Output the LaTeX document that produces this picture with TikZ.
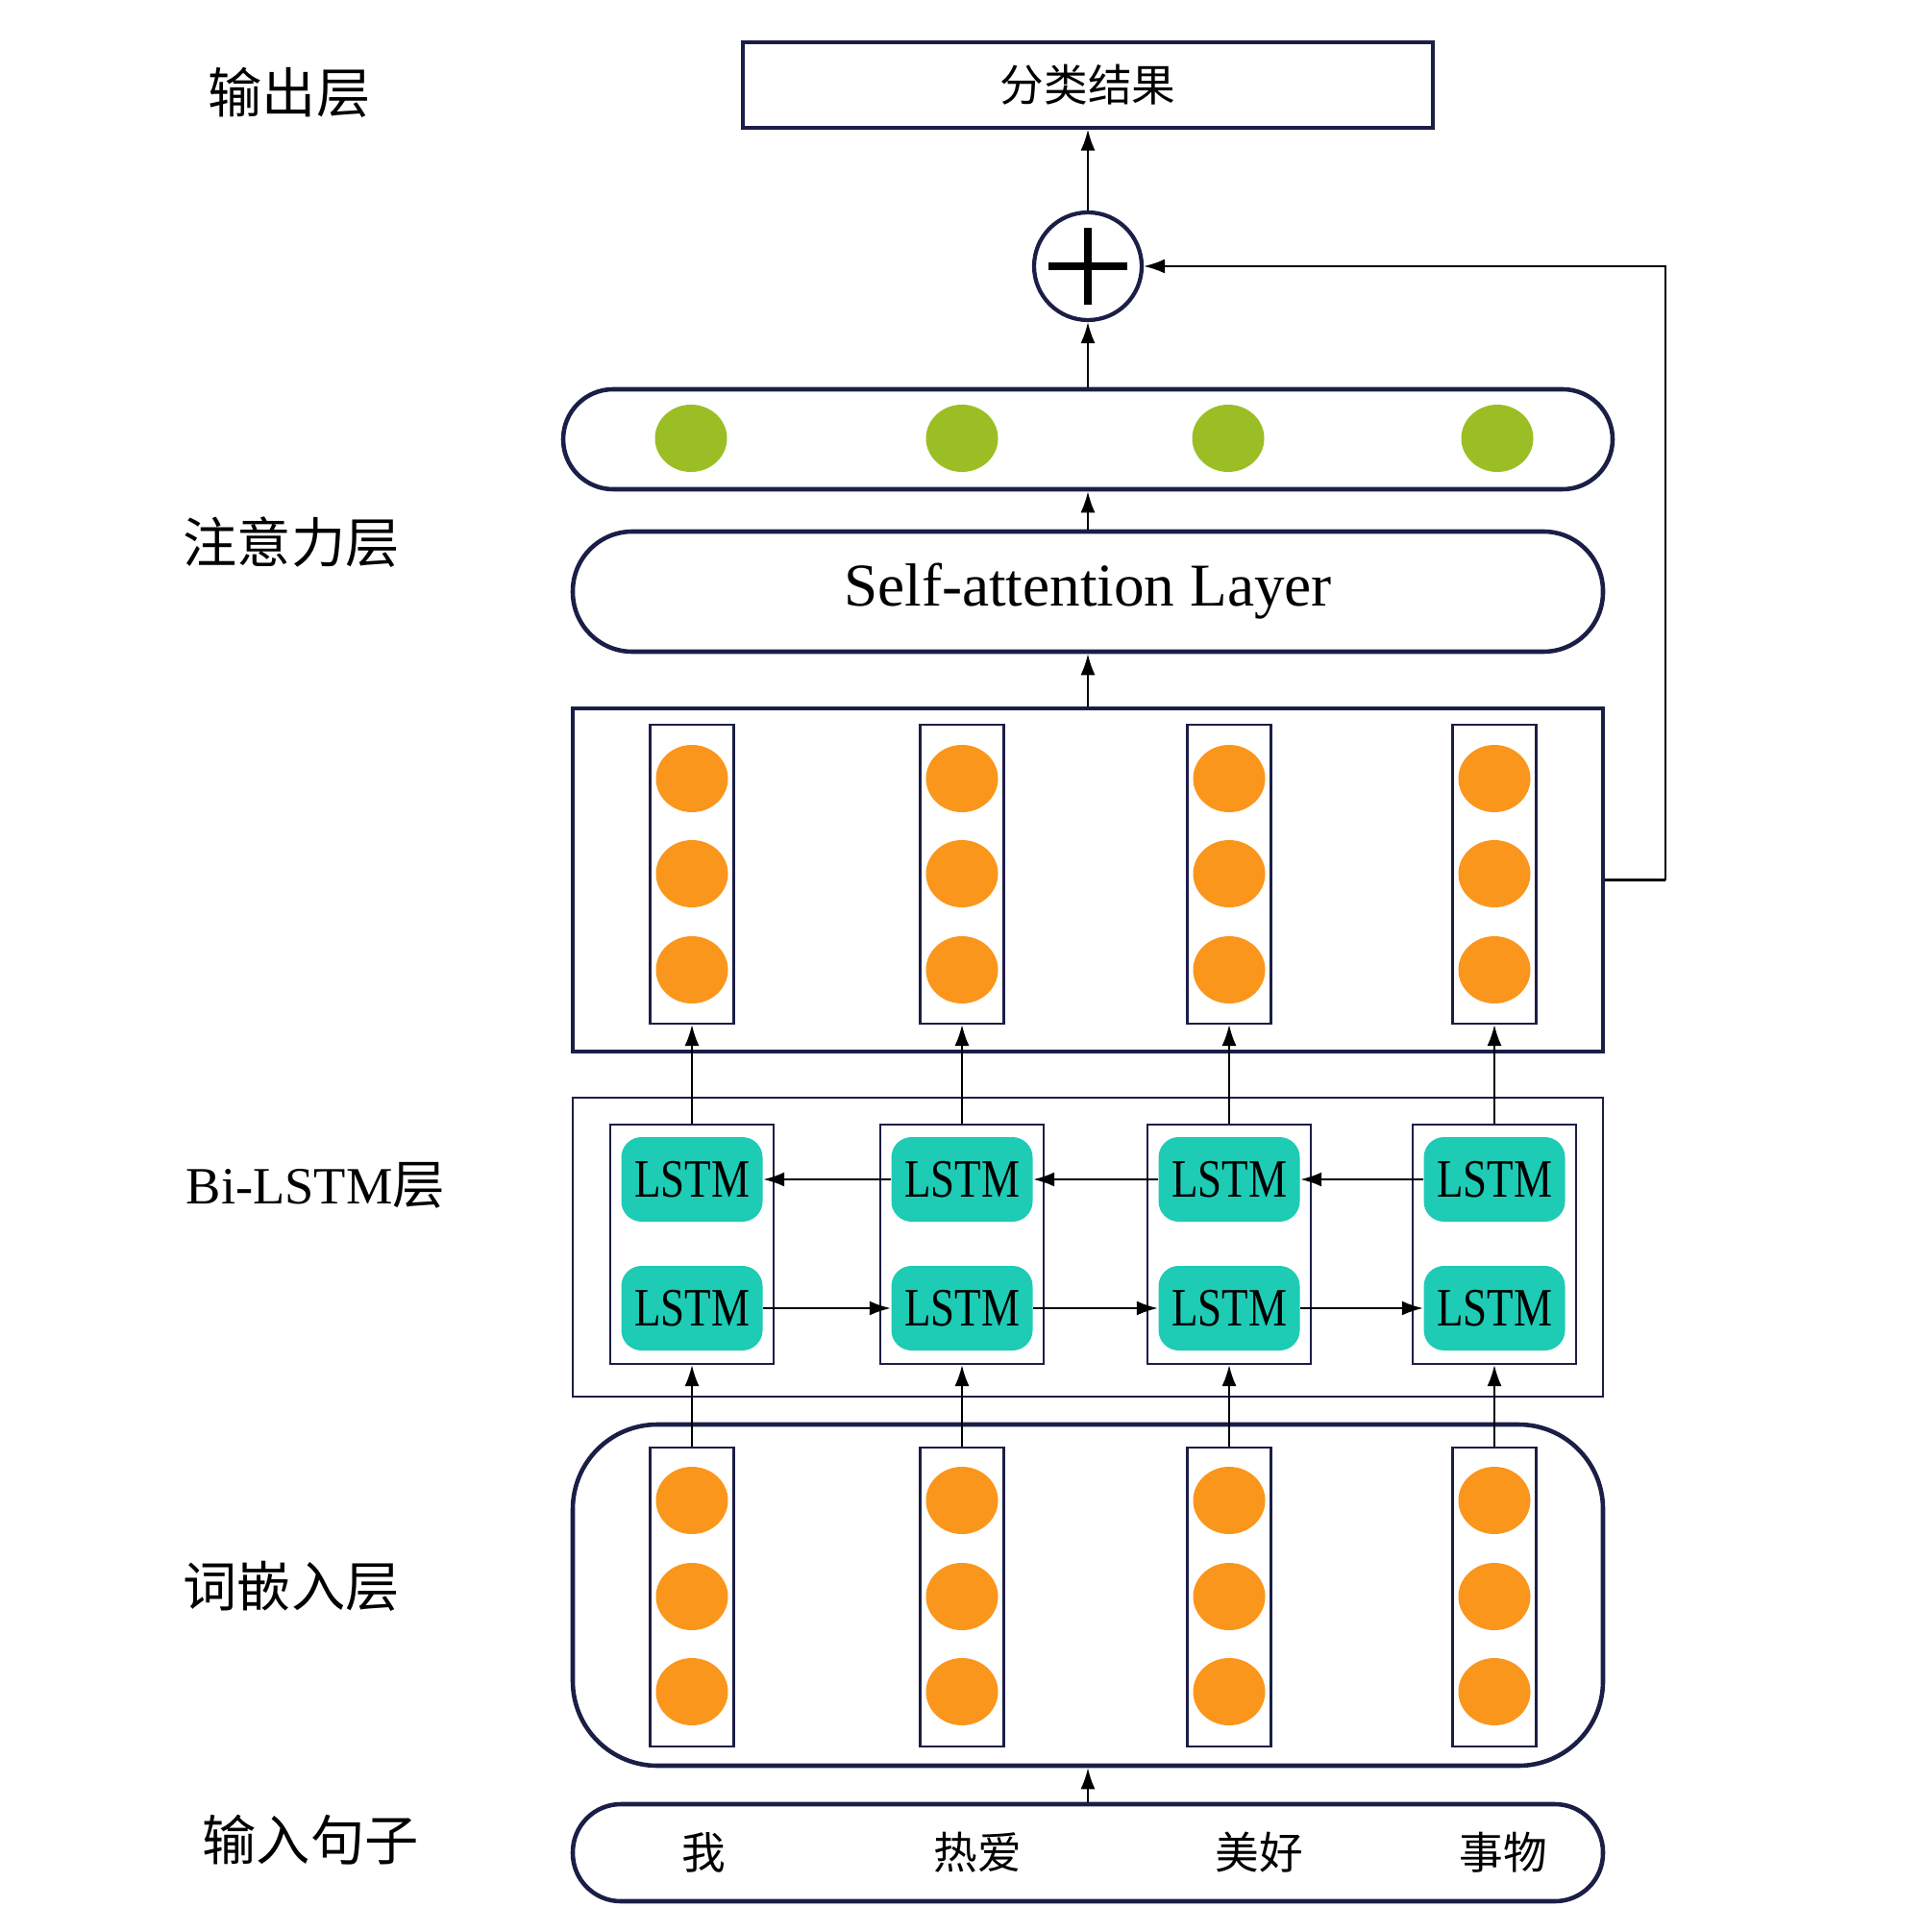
\documentclass[tikz,border=0pt]{standalone}
\usepackage{fontspec}
\setmainfont{Liberation Serif}
\newfontfamily\cjk{Noto Sans CJK SC}
\newfontfamily\lstmfont{Liberation Serif}[FakeStretch=0.8]
\usetikzlibrary{arrows.meta, shapes.geometric}
\definecolor{navyline}{RGB}{27, 30, 70}
\definecolor{dotorange}{RGB}{250, 150, 28}
\definecolor{dotgreen}{RGB}{155, 190, 37}
\definecolor{lstmteal}{RGB}{30, 203, 180}

\begin{document}
\begin{tikzpicture}[
    >={Latex[length=2.2mm, width=1.5mm]},
    layerbox/.style={
        draw=navyline,
        line width=1.3pt,
        minimum width=10.72cm,
        inner sep=0pt,
    },
    thinbox/.style={
        draw=navyline,
        line width=0.6pt,
        inner sep=0pt,
    },
    vecbox/.style={thinbox, minimum width=0.87cm, minimum height=3.11cm},
    cellbox/.style={thinbox, minimum width=1.70cm, minimum height=2.49cm},
    lstm/.style={
        fill=lstmteal,
        rounded corners=6pt,
        minimum width=1.47cm,
        minimum height=0.88cm,
        inner sep=0pt,
        font=\lstmfont\fontsize{16}{16}\selectfont,
    },
    neuron/.style={
        ellipse,
        fill=#1,
        minimum width=0.75cm,
        minimum height=0.70cm,
        inner sep=0pt,
    },
    sidelabel/.style={font=\cjk\fontsize{16}{16}\selectfont},
    wordlabel/.style={font=\cjk\fontsize{13}{13}\selectfont},
    stream/.style={->, line width=0.6pt},
    plain/.style={line width=0.6pt},
]

\useasboundingbox (0,0) rectangle (20,-20.1);

% -- Centre line of the stack
\def\midx{11.32}

% -- Output layer
\node[thinbox, line width=0.9pt, minimum width=7.18cm, minimum height=0.89cm, wordlabel] (out) at (\midx, -0.885) {分类结果};

% -- Sum node
\node[circle, draw=navyline, line width=1.2pt, minimum size=1.12cm, inner sep=0pt] (plus) at (\midx, -2.77) {};
\draw[line width=2.4pt] ([xshift=-4.1mm]plus.center) -- ([xshift=4.1mm]plus.center);
\draw[line width=2.4pt] ([yshift=-4mm]plus.center) -- ([yshift=4mm]plus.center);

% -- Attention output vector
\node[layerbox, minimum width=10.92cm, minimum height=1.04cm, rounded corners=0.52cm] (attvec) at (\midx, -4.57) {};
\foreach \i/\x in {1/7.19, 2/10.01, 3/12.78, 4/15.58} {
    \node[neuron=dotgreen] (att\i) at (\x, -4.56) {};
}

% -- Self-attention
\node[layerbox, minimum height=1.25cm, rounded corners=0.62cm, font=\fontsize{18}{18}\selectfont] (selfatt) at (\midx, -6.155) {Self-attention Layer};

% -- Hidden states
\node[layerbox, line width=1.4pt, minimum height=3.57cm] (hbox) at (\midx, -9.155) {};

% -- Bi-LSTM layer
\node[thinbox, minimum width=10.72cm, minimum height=3.11cm] (bilstm) at (\midx, -12.975) {};

% -- Word embeddings
\node[layerbox, minimum height=3.55cm, rounded corners=0.88cm] (embbox) at (\midx, -16.595) {};

% -- Input sentence
\node[layerbox, minimum height=1.01cm, rounded corners=0.5cm] (input) at (\midx, -19.275) {};
\node[wordlabel] (w1) at (7.32, -19.27) {我};
\node[wordlabel] (w2) at (10.17, -19.27) {热爱};
\node[wordlabel] (w3) at (13.10, -19.27) {美好};
\node[wordlabel] (w4) at (15.64, -19.27) {事物};

% -- Columns: hidden vector, LSTM cell, embedding vector
\foreach \i/\x in {1/7.20, 2/10.01, 3/12.79, 4/15.55} {
    \node[vecbox] (hcol\i) at (\x, -9.095) {};
    \node[neuron=dotorange] (h\i a) at (\x, -8.10) {};
    \node[neuron=dotorange] (h\i b) at (\x, -9.09) {};
    \node[neuron=dotorange] (h\i c) at (\x, -10.09) {};

    \node[cellbox] (cell\i) at (\x, -12.945) {};
    \node[lstm] (bw\i) at (\x, -12.27) {LSTM};
    \node[lstm] (fw\i) at (\x, -13.61) {LSTM};

    \node[vecbox] (ecol\i) at (\x, -16.615) {};
    \node[neuron=dotorange] (e\i a) at (\x, -15.61) {};
    \node[neuron=dotorange] (e\i b) at (\x, -16.61) {};
    \node[neuron=dotorange] (e\i c) at (\x, -17.60) {};
}

% -- Side labels
\node[sidelabel] (lout) at (3.01, -0.96) {输出层};
\node[sidelabel] (latt) at (3.03, -5.64) {注意力层};
\node[font=\fontsize{15.5}{16}\selectfont, anchor=west, inner sep=0pt] (llstm) at (1.93, -12.33) {Bi-LSTM{\cjk 层}};
\node[sidelabel] (lemb) at (3.03, -16.50) {词嵌入层};
\node[sidelabel] (lin) at (3.23, -19.14) {输入句子};

% ===== Arrows =====

% input -> embeddings
\draw[stream] (input) -- (embbox);

% embeddings -> cells -> hidden vectors
\foreach \i in {1, 2, 3, 4} {
    \draw[stream] (ecol\i) -- (cell\i);
    \draw[stream] (cell\i) -- (hcol\i);
}

% forward and backward chains
\foreach \i/\j in {1/2, 2/3, 3/4} {
    \draw[stream] (fw\i) -- (fw\j);
    \draw[stream] (bw\j) -- (bw\i);
}

% hidden states -> self-attention -> vector -> sum -> output
\draw[stream] (hbox) -- (selfatt);
\draw[stream] (selfatt) -- (attvec);
\draw[stream] (attvec) -- (plus);
\draw[stream] (plus) -- (out);

% skip connection into the sum node
\coordinate (skip) at (17.33, -9.155);
\draw[plain] (hbox.east) -- (skip);
\draw[stream] (skip) |- (plus.east);

\end{tikzpicture}
\end{document}
